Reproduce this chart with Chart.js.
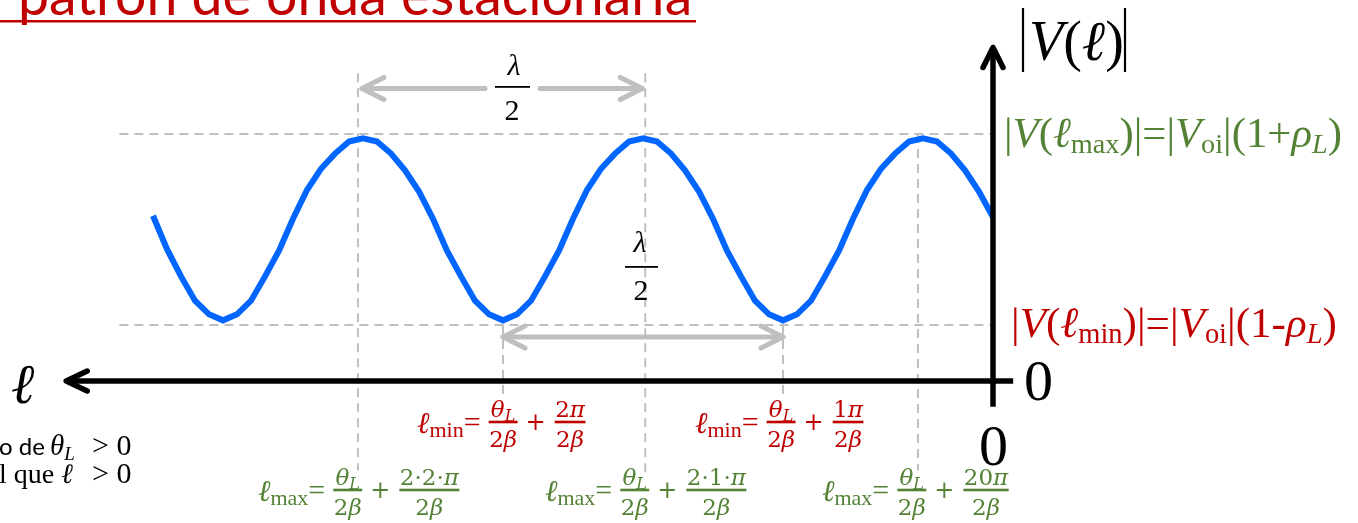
<!DOCTYPE html>
<html>
<head>
<meta charset="utf-8">
<script src="https://cdn.jsdelivr.net/npm/chart.js@4.4.1/dist/chart.umd.min.js"></script>
<style>
  html, body { margin: 0; background: #fff; }
  #wrap { width: 1358px; height: 523px; }
</style>
</head>
<body>
<div id="wrap"><canvas id="wave" width="1358" height="523"></canvas></div>
<script>
// distance from the load, in wavelengths (0 = load, grows to the left)
const ELL = [0, 0.025, 0.05, 0.075, 0.1, 0.125, 0.15, 0.175, 0.2, 0.225,
  0.25, 0.275, 0.3, 0.325, 0.35, 0.375, 0.4, 0.425, 0.45, 0.475,
  0.5, 0.525, 0.55, 0.575, 0.6, 0.625, 0.65, 0.675, 0.7, 0.725,
  0.75, 0.775, 0.8, 0.825, 0.85, 0.875, 0.9, 0.925, 0.95, 0.975,
  1, 1.025, 1.05, 1.075, 1.1, 1.125, 1.15, 1.175, 1.2, 1.225,
  1.25, 1.275, 1.3, 1.325, 1.35, 1.375, 1.4, 1.425, 1.45, 1.475, 1.5];

// |V(l)| in units of |Voi|
const V_ABS = [1.08, 1.25, 1.39, 1.50, 1.58, 1.60, 1.58, 1.50, 1.40, 1.26,
  1.07, 0.86, 0.69, 0.53, 0.44, 0.40, 0.44, 0.53, 0.69, 0.86,
  1.07, 1.25, 1.39, 1.50, 1.58, 1.60, 1.58, 1.50, 1.40, 1.26,
  1.07, 0.86, 0.69, 0.53, 0.44, 0.40, 0.44, 0.53, 0.69, 0.86,
  1.07, 1.25, 1.39, 1.50, 1.58, 1.60, 1.58, 1.50, 1.40, 1.26,
  1.07, 0.86, 0.69, 0.53, 0.44, 0.40, 0.44, 0.53, 0.69, 0.87, 1.09];

// where the maxima / minima sit, and the two envelope levels
const ELL_MAX = [1.134, 0.621, 0.134];
const ELL_MIN = [0.875, 0.375];
const V_TOP = 1.63;
const V_BOTTOM = 0.37;

// numerators of the second fraction in each l_max / l_min label
const MAX_TERMS = ['2·2·', '2·1·', '20'];
const MIN_TERMS = ['2', '1'];

const RED = '#C00000';
const GREEN = '#548235';
const GREY = '#BFBFBF';
const SERIF = '"Liberation Serif", "Times New Roman", serif';
const MATH = '"DejaVu Serif", serif';

function font(size, italic, family) {
  return (italic ? 'italic ' : '') + size + 'px ' + (family || SERIF);
}

// pieces: [text, size, italic, dy, family]
function runWidth(ctx, pieces) {
  let w = 0;
  for (const [t, size, it, , fam] of pieces) {
    ctx.font = font(size, it, fam);
    w += ctx.measureText(t).width;
  }
  return w;
}

function run(ctx, x, y, pieces, color) {
  ctx.fillStyle = color;
  ctx.textAlign = 'left';
  ctx.textBaseline = 'alphabetic';
  for (const [t, size, it, dy, fam] of pieces) {
    ctx.font = font(size, it, fam);
    ctx.fillText(t, x, y + (dy || 0));
    x += ctx.measureText(t).width;
  }
  return x;
}

// same as run() but scales the sizes so the line spans `width`
function fitRun(ctx, x, y, pieces, width, color) {
  const k = width / runWidth(ctx, pieces.map(p => [p[0], p[1] * 100, p[2]]));
  return run(ctx, x, y, pieces.map(p => [p[0], p[1] * 100 * k, p[2], (p[3] || 0) * 100 * k]), color);
}

function frac(ctx, x, barY, num, den, color) {
  const wn = runWidth(ctx, num), wd = runWidth(ctx, den);
  const w = Math.max(wn, wd) + 1;
  ctx.fillStyle = color;
  ctx.fillRect(x, barY - 1.3, w, 2.6);
  run(ctx, x + (w - wn) / 2, barY - 5, num, color);
  run(ctx, x + (w - wd) / 2, barY + 25, den, color);
  return x + w;
}

const TWO_BETA = [['2', 23, false, 0, MATH], ['β', 23, true, 0, MATH]];
const THETA_L = [['θ', 23, true, 0, MATH], ['L', 16, true, 4, MATH]];

function ellLabel(ctx, x, barY, sub, term, color) {
  let cx = run(ctx, x, barY + 11, [['ℓ', 30, true]], color);
  cx = run(ctx, cx, barY + 15, [[sub, 22, false]], color);
  cx = run(ctx, cx, barY + 10, [['=', 30, false]], color) + 8;
  cx = frac(ctx, cx, barY, THETA_L, TWO_BETA, color) + 8;
  cx = run(ctx, cx, barY + 8, [['+', 24, false, 0, MATH]], color) + 9;
  frac(ctx, cx, barY, [[term, 23, false, 0, MATH], ['π', 23, true, 0, MATH]], TWO_BETA, color);
}

function chevron(ctx, tx, ty, dx, dy, len, spread) {
  ctx.beginPath();
  ctx.moveTo(tx - dx * len - dy * spread, ty - dy * len + dx * spread);
  ctx.lineTo(tx, ty);
  ctx.lineTo(tx - dx * len + dy * spread, ty - dy * len - dx * spread);
  ctx.stroke();
}

function line(ctx, x1, y1, x2, y2) {
  ctx.beginPath();
  ctx.moveTo(x1, y1);
  ctx.lineTo(x2, y2);
  ctx.stroke();
}

const sketch = {
  id: 'sketch',
  beforeDatasetsDraw(chart) {
    const { ctx, scales: { x, y } } = chart;
    const px = v => x.getPixelForValue(v), py = v => y.getPixelForValue(v);
    ctx.save();
    ctx.strokeStyle = GREY;
    ctx.lineWidth = 2;
    ctx.setLineDash([9, 6]);
    // envelope levels
    line(ctx, px(1.56), py(V_TOP), px(0), py(V_TOP));
    line(ctx, px(1.56), py(V_BOTTOM), px(0), py(V_BOTTOM));
    // maxima
    line(ctx, px(ELL_MAX[0]), py(2.03), px(ELL_MAX[0]), py(-0.59));
    line(ctx, px(ELL_MAX[1]), py(2.03), px(ELL_MAX[1]), py(-0.64));
    line(ctx, px(ELL_MAX[2]), py(V_TOP), px(ELL_MAX[2]), py(-0.59));
    // minima
    for (const l of ELL_MIN) line(ctx, px(l), py(V_BOTTOM), px(l), py(-0.11));
    ctx.restore();
  },
  afterDatasetsDraw(chart) {
    const { ctx, scales: { x, y } } = chart;
    const px = v => x.getPixelForValue(v), py = v => y.getPixelForValue(v);
    ctx.save();
    ctx.lineCap = 'round';
    ctx.lineJoin = 'round';

    // half-wavelength spans
    ctx.strokeStyle = GREY;
    ctx.lineWidth = 5;
    const ya = py(1.93), xa1 = px(ELL_MAX[0]) + 4, xa2 = px(ELL_MAX[1]) - 3;
    line(ctx, xa1, ya, 485, ya);
    line(ctx, 540, ya, xa2, ya);
    chevron(ctx, xa1, ya, -1, 0, 22, 11);
    chevron(ctx, xa2, ya, 1, 0, 22, 11);
    const yb = py(0.29), xb1 = px(ELL_MIN[0]), xb2 = px(ELL_MIN[1]);
    line(ctx, xb1, yb, xb2, yb);
    chevron(ctx, xb1, yb, -1, 0, 22, 11);
    chevron(ctx, xb2, yb, 1, 0, 22, 11);

    // axes
    ctx.strokeStyle = '#000';
    ctx.lineWidth = 5.5;
    ctx.lineCap = 'butt';
    line(ctx, px(1.655), py(0), px(-0.036), py(0));
    line(ctx, px(0), py(-0.17), px(0), py(2.2));
    ctx.lineCap = 'round';
    chevron(ctx, px(1.655), py(0), -1, 0, 21, 10);
    chevron(ctx, px(0), py(2.2), 0, -1, 20, 10);

    // title, cut by the top edge
    ctx.font = '100px Lato';
    const tw = ctx.measureText('patrón de onda estacionaria').width;
    ctx.font = (100 * 674 / tw).toFixed(1) + 'px Lato';
    const lead = ctx.measureText('El ').width;
    ctx.fillStyle = RED;
    ctx.textAlign = 'left';
    ctx.fillText('El patrón de onda estacionaria', 18 - lead, 15);
    ctx.fillRect(0, 20, 696, 2.5);

    // |V(l)|
    ctx.strokeStyle = '#000';
    ctx.lineWidth = 2.2;
    ctx.lineCap = 'butt';
    line(ctx, 1023, 8, 1023, 72);
    line(ctx, 1125, 8, 1125, 72);
    run(ctx, 1029, 60, [['V', 56, true], ['(', 56], ['ℓ', 56, true], [')', 56]], '#000');

    // envelope labels
    fitRun(ctx, 1004, 147, [['|', 1], ['V', 1, true], ['(', 1], ['ℓ', 1, true], ['max', 0.66, false, 0.14],
      [')', 1], ['|=|', 1], ['V', 1, true], ['oi', 0.66, false, 0.14], ['|(1+', 1], ['ρ', 1, true],
      ['L', 0.66, true, 0.14], [')', 1]], 338, GREEN);
    fitRun(ctx, 1011, 337, [['|', 1], ['V', 1, true], ['(', 1], ['ℓ', 1, true], ['min', 0.66, false, 0.14],
      [')', 1], ['|=|', 1], ['V', 1, true], ['oi', 0.66, false, 0.14], ['|(1-', 1], ['ρ', 1, true],
      ['L', 0.66, true, 0.14], [')', 1]], 326, RED);

    // zeros
    run(ctx, 1024, 400, [['0', 58]], '#000');
    run(ctx, 979, 465, [['0', 58]], '#000');

    // axis name
    run(ctx, 11, 403, [['ℓ', 56, true]], '#000');

    // lambda / 2
    ctx.fillStyle = '#000';
    ctx.textAlign = 'center';
    ctx.font = font(30, true);
    ctx.fillText('λ', 514, 75);
    ctx.fillText('λ', 640, 252);
    ctx.font = font(30, false);
    ctx.fillText('2', 512, 120);
    ctx.fillText('2', 641, 300);
    ctx.fillRect(495, 86, 35, 1.8);
    ctx.fillRect(625, 266, 33, 1.8);

    // positions of minima and maxima
    ellLabel(ctx, 417, 422, 'min', MIN_TERMS[0], RED);
    ellLabel(ctx, 695, 422, 'min', MIN_TERMS[1], RED);
    ellLabel(ctx, 258, 490, 'max', MAX_TERMS[0], GREEN);
    ellLabel(ctx, 545, 490, 'max', MAX_TERMS[1], GREEN);
    ellLabel(ctx, 822, 490, 'max', MAX_TERMS[2], GREEN);

    // side note
    ctx.textAlign = 'left';
    ctx.fillStyle = '#000';
    ctx.font = '24px Lato';
    ctx.fillText('o de', -1, 455);
    run(ctx, 50, 455, [['θ', 29, true], ['L', 19, true, 5]], '#000');
    run(ctx, 92, 455, [['> 0', 30]], '#000');
    run(ctx, -1, 483, [['l que ', 28], ['ℓ', 28, true]], '#000');
    run(ctx, 92, 483, [['> 0', 30]], '#000');
    ctx.restore();
  }
};

new Chart(document.getElementById('wave'), {
  type: 'line',
  data: {
    datasets: [{
      data: ELL.map((l, i) => ({ x: l, y: V_ABS[i] })),
      borderColor: '#0066FF',
      borderWidth: 6,
      pointRadius: 0,
      tension: 0,
      fill: false
    }]
  },
  options: {
    responsive: false,
    animation: false,
    layout: { padding: { left: 69, right: 365, top: 2, bottom: 142 } },
    scales: {
      x: { type: 'linear', reverse: true, min: 0, max: 1.65, display: false },
      y: { min: 0, max: 2.5, display: false }
    },
    plugins: { legend: { display: false }, tooltip: { enabled: false } }
  },
  plugins: [sketch]
});
</script>
</body>
</html>
